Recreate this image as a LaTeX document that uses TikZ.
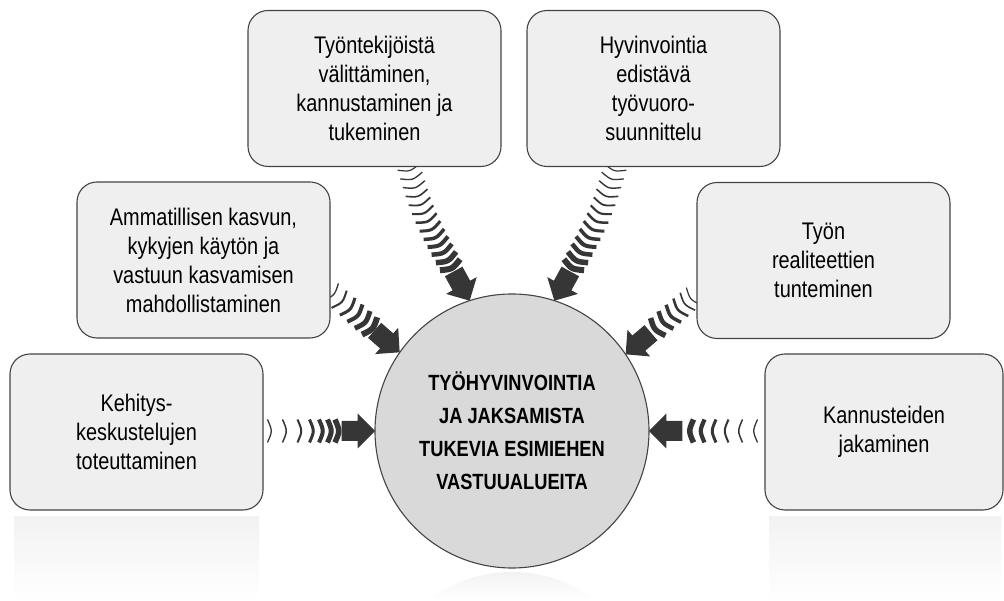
\documentclass[tikz,border=0pt]{standalone}
\usepackage{fontspec}
\setmainfont{Liberation Sans}[FakeStretch=0.83]
\usetikzlibrary{decorations.markings}
\definecolor{arr}{HTML}{363636}
\definecolor{boxfill}{HTML}{EFEFEF}
\definecolor{circfill}{HTML}{D9D9D9}
\definecolor{edge}{HTML}{444444}
\tikzset{
  box/.style={draw=edge, line width=1.1pt, fill=boxfill, rounded corners=20pt,
    minimum width=253pt, minimum height=156pt, align=center, inner sep=0pt,
    font=\fontsize{24}{29}\selectfont},
  strp/.style n args={2}{postaction={decorate, decoration={markings,
    mark=at position -#1pt with {\draw[arr, line width=#2pt] (-2.5,-11.5) .. controls (2.5,0) .. (-2.5,11.5);}}}},
  ahead/.style={postaction={decorate, decoration={markings,
    mark=at position -0.3pt with {\fill[arr] (-33,-10) -- (-17,-10) -- (-17,-17.5) -- (0.3,0) -- (-17,17.5) -- (-17,10) -- (-33,10) -- cycle;}}}},
  refl/.style={top color=black!5, bottom color=white},
}
\begin{document}
\begin{tikzpicture}[x=1pt,y=1pt]
\useasboundingbox (0,0) rectangle (1004,601);
% reflections
\shade[refl] (14,0) rectangle (259,84);
\shade[refl] (769,0) rectangle (1001,84);
\begin{scope}
  \clip (512,-108) circle (137);
  \shade[refl] (375,0) rectangle (649,29);
\end{scope}
% centre
\node[circle, draw=edge, line width=1.1pt, fill=circfill, minimum size=274pt,
  inner sep=0pt, outer sep=0pt, align=center,
  font=\bfseries\fontsize{22}{33}\selectfont] (c) at (512,170)
  {TYÖHYVINVOINTIA\\JA JAKSAMISTA\\TUKEVIA ESIMIEHEN\\VASTUUALUEITA};
% arrow starts
\coordinate (sL) at (268,170);
\coordinate (sR) at (758,170);
\coordinate (sML) at (332,308);
\coordinate (sMR) at (693,304);
\coordinate (sTL) at (409,433);
\coordinate (kTL) at (423.6,384.4);
\coordinate (sTR) at (615,433);
\coordinate (kTR) at (600.4,384.4);
% arrows
\path[ahead, strp={105}{1.3}, strp={90}{1.5}, strp={75}{2}, strp={63}{3},
  strp={53.5}{4}, strp={45}{5}, strp={37.5}{5.5}] (sL) -- (c.west);
\path[ahead, strp={106}{1.3}, strp={91}{1.5}, strp={77}{2}, strp={64.5}{3},
  strp={53}{4.2}, strp={42}{5.5}] (sR) -- (c.east);
\path[ahead, strp={89}{1.3}, strp={78}{2}, strp={67}{3}, strp={57}{4},
  strp={47}{5}, strp={37.5}{6}] (sML) -- (c.145);
\path[ahead, strp={87}{1.2}, strp={79}{1.6}, strp={70}{2.5}, strp={60.5}{3.5},
  strp={50.5}{4.5}, strp={40}{5.5}] (sMR) -- (c.34);
\path[ahead, strp={145}{1.2}, strp={136}{1.3}, strp={127}{1.4}, strp={118}{1.6},
  strp={109}{1.8}, strp={100}{2.1}, strp={91}{2.5}, strp={82}{3}, strp={73}{3.5},
  strp={64.5}{4}, strp={56}{4.5}, strp={47}{5.5}, strp={38.5}{6}]
  (sTL) .. controls (kTL) .. (c.108);
\path[ahead, strp={145}{1.2}, strp={136}{1.3}, strp={127}{1.4}, strp={118}{1.6},
  strp={109}{1.8}, strp={100}{2.1}, strp={91}{2.5}, strp={82}{3}, strp={73}{3.5},
  strp={64.5}{4}, strp={56}{4.5}, strp={47}{5.5}, strp={38.5}{6}]
  (sTR) .. controls (kTR) .. (c.72);
% boxes
\node[box] (b1) at (374.5,512.5) {Työntekijöistä\\välittäminen,\\kannustaminen ja\\tukeminen};
\node[box] (b2) at (653.5,512.5) {Hyvinvointia\\edistävä\\työvuoro-\\suunnittelu};
\node[box] (b3) at (203.5,341) {Ammatillisen kasvun,\\kykyjen käytön ja\\vastuun kasvamisen\\mahdollistaminen};
\node[box] (b4) at (823.5,340.5) {Työn\\realiteettien\\tunteminen};
\node[box] (b5) at (136.5,169) {Kehitys-\\keskustelujen\\toteuttaminen};
\node[box, minimum width=238pt] (b6) at (884,169) {Kannusteiden\\jakaminen};
\end{tikzpicture}
\end{document}
